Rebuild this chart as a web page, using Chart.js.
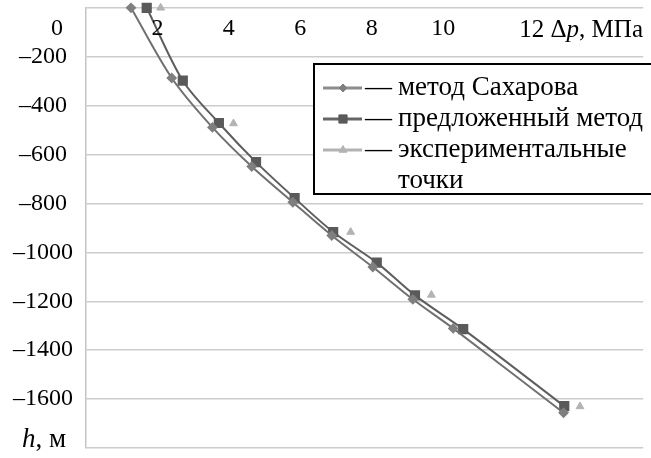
<!DOCTYPE html>
<html lang="ru">
<head>
  <meta charset="UTF-8">
  <title>Δp vs h</title>
  <script src="https://cdn.jsdelivr.net/npm/chart.js"></script>
  <style>
    html, body { margin: 0; padding: 0; background: #fff; overflow: hidden; }
    #wrap { width: 651px; height: 458px; position: relative; }
  </style>
</head>
<body>
  <div id="wrap"><canvas id="chart"></canvas></div>

  <script>
    // данные (Δp, МПа ; h, м)
    const sakharovX = [1.26, 2.40, 3.54, 4.64, 5.79, 6.88, 8.03, 9.15, 10.28, 13.37];
    const sakharovY = [0, -287, -489, -649, -795, -931, -1060, -1192, -1311, -1656];

    const proposedX = [1.70, 2.71, 3.72, 4.76, 5.84, 6.92, 8.14, 9.21, 10.56, 13.39];
    const proposedY = [0, -298, -471, -631, -778, -917, -1042, -1176, -1314, -1629];

    const expX = [2.09, 4.13, 7.41, 9.67, 13.83];
    const expY = [0, -473, -917, -1174, -1630];

    const xTickLabels = [2, 4, 6, 8, 10];
    const xTitle = '12 Δp, МПа';
    const legendTexts = ['метод Сахарова', 'предложенный метод', 'экспериментальные', 'точки'];

    const toPoints = (xs, ys) => xs.map((v, i) => ({ x: v, y: ys[i] }));

    const FONT = '"Liberation Serif", "Times New Roman", serif';

    // draws mixed italic/regular pieces, returns end x
    function drawRich(ctx, parts, x, y, size) {
      parts.forEach(p => {
        ctx.font = (p.i ? 'italic ' : '') + size + 'px ' + FONT;
        ctx.fillText(p.t, x, y);
        x += ctx.measureText(p.t).width;
      });
      return x;
    }
    function richWidth(ctx, parts, size) {
      let w = 0;
      parts.forEach(p => {
        ctx.font = (p.i ? 'italic ' : '') + size + 'px ' + FONT;
        w += ctx.measureText(p.t).width;
      });
      return w;
    }

    // подписи осей и легенда рисуются поверх
    const extraText = {
      id: 'extraText',
      afterDraw(chart) {
        const ctx = chart.ctx;
        const sx = chart.scales.x;
        const area = chart.chartArea;
        ctx.save();
        ctx.fillStyle = '#000';
        ctx.font = '24px ' + FONT;
        ctx.textBaseline = 'alphabetic';

        // подписи оси Δp
        ctx.textAlign = 'center';
        xTickLabels.forEach(v => ctx.fillText(String(v), sx.getPixelForValue(v), 35));
        ctx.fillText('0', area.left - 29, 35);

        // 12 Δp, МПа
        ctx.textAlign = 'left';
        const pParts = [{ t: xTitle.slice(0, 4) }, { t: 'p', i: true }, { t: xTitle.slice(5) }];
        const w = richWidth(ctx, pParts, 25);
        drawRich(ctx, pParts, 643 - w, 37, 25);

        // h, м
        drawRich(ctx, [{ t: 'h', i: true }, { t: ', м' }], 22, 447, 27);

        // легенда
        const bx = 314, by = 64, bw = 345, bh = 130;
        ctx.fillStyle = '#fff';
        ctx.fillRect(bx, by, bw, bh);
        ctx.strokeStyle = '#000';
        ctx.lineWidth = 2;
        ctx.strokeRect(bx, by, bw, bh);

        const ds = chart.data.datasets;
        const baselines = [95, 126, 157, 188];
        for (let i = 0; i < 3; i++) {
          const d = ds[i];
          const cy = baselines[i] - 7;
          ctx.strokeStyle = d.legendLine;
          ctx.lineWidth = 3;
          ctx.beginPath();
          ctx.moveTo(323, cy);
          ctx.lineTo(362, cy);
          ctx.stroke();
          ctx.fillStyle = d.pointBackgroundColor;
          ctx.strokeStyle = d.pointBorderColor;
          ctx.lineWidth = 1;
          Chart.helpers.drawPoint(ctx, {
            pointStyle: d.pointStyle,
            radius: d.pointRadius,
            rotation: 0,
            borderWidth: 1
          }, 343, cy);
        }
        ctx.fillStyle = '#000';
        ctx.font = '27px ' + FONT;
        ctx.textAlign = 'left';
        for (let i = 0; i < 3; i++) ctx.fillText('—', 365, baselines[i]);
        legendTexts.forEach((t, i) => ctx.fillText(t, 398, baselines[i]));
        ctx.restore();
      }
    };

    const ctx = document.getElementById('chart').getContext('2d');
    const chart = new Chart(ctx, {
      type: 'scatter',
      data: {
        datasets: [
          {
            label: 'метод Сахарова',
            data: toPoints(sakharovX, sakharovY),
            showLine: true,
            borderColor: '#707070',
            borderWidth: 2,
            tension: 0.3,
            pointStyle: 'rectRot',
            pointRadius: 4,
            pointBackgroundColor: '#7f7f7f',
            pointBorderColor: '#7f7f7f',
            legendLine: '#8c8c8c',
            clip: false
          },
          {
            label: 'предложенный метод',
            data: toPoints(proposedX, proposedY),
            showLine: true,
            borderColor: '#5e5e5e',
            borderWidth: 2,
            tension: 0.3,
            pointStyle: 'rect',
            pointRadius: 5.8,
            pointBackgroundColor: '#5a5a5a',
            pointBorderColor: '#5a5a5a',
            legendLine: '#666666',
            clip: false
          },
          {
            label: 'экспериментальные точки',
            data: toPoints(expX, expY),
            showLine: false,
            pointStyle: 'triangle',
            pointRadius: 4.5,
            pointBackgroundColor: '#b3b3b3',
            pointBorderColor: '#b3b3b3',
            legendLine: '#b3b3b3',
            clip: false
          }
        ]
      },
      options: {
        responsive: true,
        maintainAspectRatio: false,
        animation: false,
        layout: { padding: { top: 7, bottom: 10, left: 0, right: 0 } },
        plugins: {
          legend: { display: false },
          tooltip: { enabled: false }
        },
        scales: {
          x: {
            type: 'linear',
            display: false,
            min: 0,
            max: 15.6
          },
          y: {
            type: 'linear',
            min: -1800,
            max: 0,
            afterFit: s => { s.width = 86; s.paddingTop = 0; s.paddingBottom = 0; },
            border: { display: true, color: '#c4c4c4', width: 1.5 },
            grid: { color: '#cccccc', lineWidth: 1.5, drawTicks: false },
            ticks: {
              stepSize: 200,
              padding: 13,
              crossAlign: 'center',
              color: '#000',
              font: { family: FONT, size: 24 },
              callback: v => (v === 0 || v === -1800) ? '' : '–' + Math.abs(v)
            }
          }
        }
      },
      plugins: [extraText]
    });
  </script>
</body>
</html>
